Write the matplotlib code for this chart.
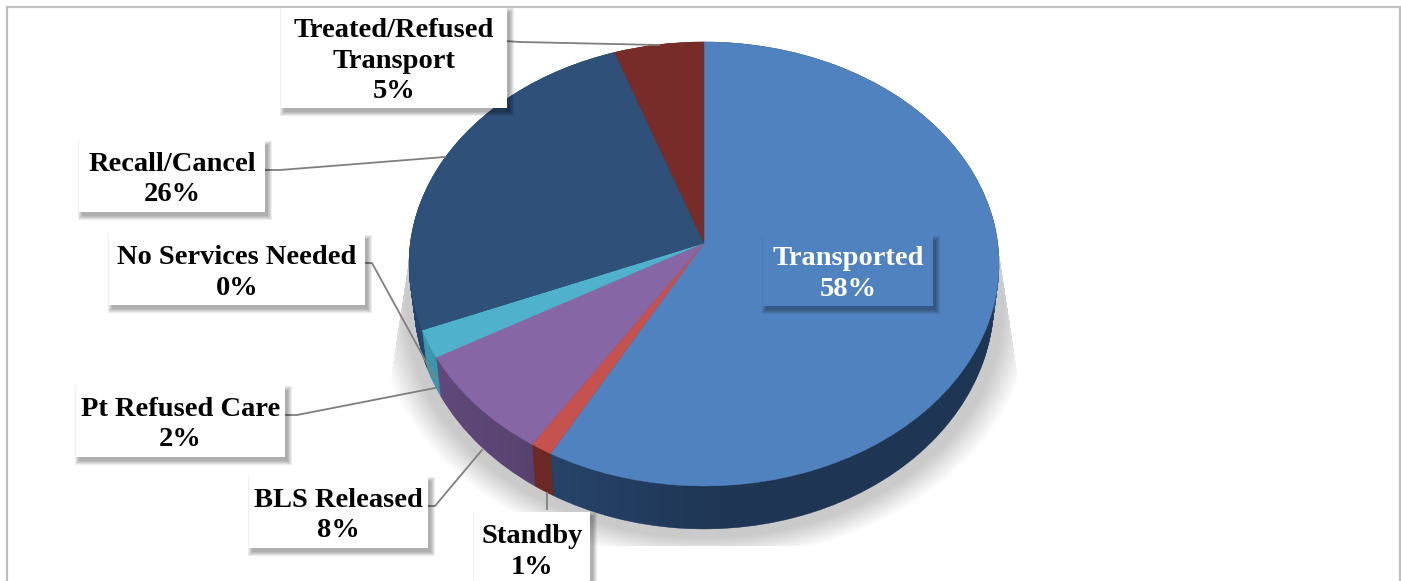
import numpy as np
import matplotlib
matplotlib.use("Agg")
import matplotlib.pyplot as plt
from matplotlib.patches import PathPatch, Rectangle, Ellipse
from matplotlib.path import Path

categories = ["Transported", "Standby", "BLS Released", "Pt Refused Care",
              "No Services Needed", "Recall/Cancel", "Treated/Refused\nTransport"]
shown_percent = ["58%", "1%", "8%", "2%", "0%", "26%", "5%"]
# slice sizes as drawn in the picture
slice_values = [58.7, 1.2, 8.2, 2.1, 0.0, 24.9, 4.9]
top_colors = ["#5082BF", "#C5524F", "#8666A5", "#4FB1CC", "#2F5078", "#2F5078", "#772C2A"]
wall_colors = ["#2C4D78", "#7A2F2A", "#614A7C", "#3A97AD", "#27446A", "#27446A", "#4F1F1D"]

box_xywh = [(763, 236, 170, 70), (474, 512, 116, 74), (249, 477, 179, 71), (76, 386, 209, 71),
            (109, 235, 256, 70), (79, 141, 186, 71), (281, 8, 226, 100)]
leaders = [None,
           [(547, 493), (547, 509)],
           [(424, 506), (435, 506), (482, 450)],
           [(281, 415), (297, 415), (435, 388)],
           [(361, 263), (372, 263), (435, 378)],
           [(261, 170), (280, 170), (445, 157)],
           [(504, 41), (520, 42), (659, 45)]]

W, H = 1401, 581
fig = plt.figure(figsize=(W / 100, H / 100), dpi=100, facecolor="white")
ax = fig.add_axes([0, 0, 1, 1])

wedges, _ = ax.pie(slice_values, colors=top_colors, startangle=90, counterclock=False,
                   radius=1, center=(0, 0), normalize=True)
unit_paths = [w.get_path() for w in wedges]
for w in wedges:
    w.remove()
ax.set_aspect("auto")
ax.set_xlim(0, W)
ax.set_ylim(H, 0)
ax.axis("off")

CX = 704
TOP = dict(cy=264.0, rx=295.0, ry=222.0, apex=243.0)
BOT = dict(cy=300.0, rx=290.0, ry=229.0)


def place(path, cy, rx, ry, apex=None):
    v = path.vertices.copy()
    r = np.hypot(v[:, 0], v[:, 1])
    x = CX + rx * v[:, 0]
    y = cy - ry * v[:, 1]
    if apex is not None:
        y = np.where(r < 0.5, apex, y)
    return Path(np.column_stack([x, y]), path.codes)


# soft floor shadow
xs = np.arange(385, 1025)
ys = np.arange(245, 552)
gx, gy = np.meshgrid(xs, ys)
d = (np.sqrt(((gx - CX) / 298.0) ** 2 + ((gy - 307) / 230.0) ** 2) - 1) * 260
a = np.clip(1 - d / 27.0, 0, 1) * 0.21
spread = 295 + (gy - 255) * 0.152
a = np.where((np.abs(gx - CX) < spread) & (gy < 546) & (gy > 255), a, 0)
rgba = np.zeros(a.shape + (4,))
rgba[..., 3] = a
ax.imshow(rgba, extent=(385, 1025, 552, 245), origin="upper", aspect="auto", zorder=1)

# side wall
n_layers = 44
for i in range(n_layers):
    f = 1 - i / (n_layers - 1)
    cy = TOP["cy"] + f * (BOT["cy"] - TOP["cy"])
    rx = TOP["rx"] + f * (BOT["rx"] - TOP["rx"])
    ry = TOP["ry"] + f * (BOT["ry"] - TOP["ry"])
    for p, c in zip(unit_paths, wall_colors):
        ax.add_patch(PathPatch(place(p, cy, rx, ry), facecolor=c, edgecolor=c, lw=0.3, zorder=2))

# darkening of the wall towards the right
grad = np.zeros((2, 620, 4))
grad[..., 3] = np.clip((np.arange(620) - 30) / 290.0, 0, 1) * 0.30
im = ax.imshow(grad, extent=(400, 1020, 540, 260), origin="upper", aspect="auto", zorder=3)
clip = Ellipse((CX, BOT["cy"]), 2 * BOT["rx"], 2 * BOT["ry"], transform=ax.transData)
im.set_clip_path(clip)

# top face
for p, c in zip(unit_paths, top_colors):
    ax.add_patch(PathPatch(place(p, TOP["cy"], TOP["rx"], TOP["ry"], TOP["apex"]),
                           facecolor=c, edgecolor=c, lw=0.3, zorder=4))

# frame
fx = [7, 7, 1400, 1400]
fy = [H, 7, 7, H]
ax.plot(fx, fy, color="#BFBFBF", lw=1.6, zorder=5, solid_joinstyle="miter")

# labels
for name, pct, (x, y, w, h), lead, col in zip(categories, shown_percent, box_xywh, leaders, top_colors):
    if lead is not None:
        lx, ly = zip(*lead)
        ax.plot(lx, ly, color="#7F7F7F", lw=1.3, zorder=6)
    for k in range(5, 0, -1):
        ax.add_patch(Rectangle((x + 4 - k, y + 5 - k), w + 2 * k - 2, h + 2 * k - 2,
                               facecolor="black", edgecolor="none", alpha=0.07, zorder=7))
    white = name == "Transported"
    ax.add_patch(Rectangle((x, y), w, h, facecolor=col if white else "white",
                           edgecolor="none", zorder=8))
    yc = y + h / 2 + 3 if name != "Standby" else 552
    ax.text(x + w / 2, yc, name + "\n" + pct, ha="center", va="center", multialignment="center",
            family="Liberation Serif", weight="bold", fontsize=20.5, linespacing=1.29,
            color="white" if white else "black", zorder=9)

fig.savefig("out.png", dpi=100, facecolor="white")
